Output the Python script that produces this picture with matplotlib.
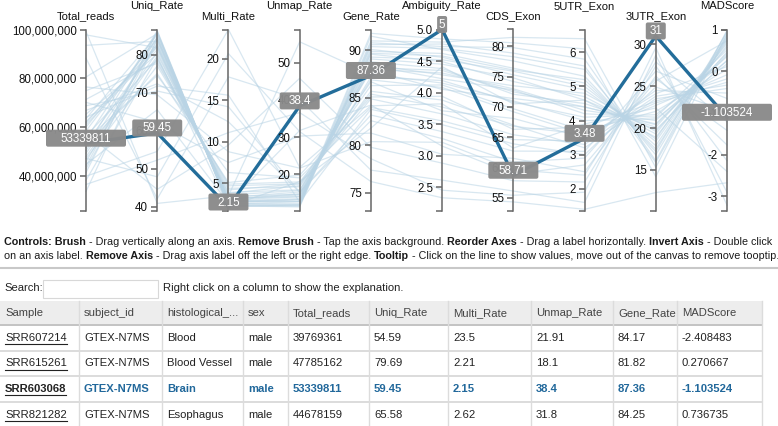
import matplotlib
matplotlib.use("Agg")
import matplotlib.pyplot as plt
from matplotlib.patches import Rectangle, FancyBboxPatch
from matplotlib.ticker import FuncFormatter

plt.rcParams["font.family"] = ["Liberation Sans", "DejaVu Sans"]

W, H = 778, 426

# ---------------------------------------------------------------- data
DIMS = ["Total_reads", "Uniq_Rate", "Multi_Rate", "Unmap_Rate", "Gene_Rate",
        "Ambiguity_Rate", "CDS_Exon", "5UTR_Exon", "3UTR_Exon", "MADScore"]
DOMAINS = [(25.5e6, 100e6), (38.9, 86.7), (1.67, 23.5), (10.2, 58.9), (73.1, 92.2),
           (2.12, 5.0), (52.8, 82.8), (1.35, 6.67), (10.1, 31.77), (-3.36, 1.01)]
TICKS = [[40e6, 60e6, 80e6, 100e6], [40, 50, 60, 70, 80], [5, 10, 15, 20],
         [20, 30, 40, 50], [75, 80, 85, 90], [2.5, 3.0, 3.5, 4.0, 4.5, 5.0],
         [55, 60, 65, 70, 75, 80], [2, 3, 4, 5, 6], [15, 20, 25, 30], [-3, -2, -1, 0, 1]]

# background samples (light lines)
total_reads = [39769361, 47785162, 44678159, 62.1e6, 58.4e6, 71.3e6, 55.0e6, 49.2e6, 66.8e6, 93.5e6,
               41.3e6, 52.7e6, 60.9e6, 88.2e6, 45.6e6, 57.3e6, 38.1e6, 63.4e6, 74.9e6, 50.3e6,
               68.7e6, 43.9e6, 97.8e6, 54.6e6, 59.9e6, 36.4e6, 65.2e6, 80.5e6, 47.1e6, 61.7e6,
               56.2e6, 42.8e6, 70.1e6, 51.5e6, 64.0e6, 99.2e6, 33.5e6, 76.4e6, 53.1e6, 46.9e6]
uniq_rate = [54.59, 79.69, 65.58, 82.1, 84.5, 78.3, 85.9, 80.7, 72.4, 83.6,
             86.2, 75.1, 81.4, 42.1, 84.8, 44.6, 79.2, 85.3, 77.8, 83.0,
             70.5, 86.0, 81.9, 74.6, 84.1, 52.3, 80.2, 85.6, 47.9, 82.7,
             78.9, 83.9, 62.2, 86.4, 71.8, 40.9, 84.3, 69.5, 82.4, 77.1]
multi_rate = [23.5, 2.21, 2.62, 3.1, 2.8, 4.2, 2.4, 3.6, 12.4, 2.9,
              2.3, 5.1, 3.3, 17.8, 2.5, 9.6, 3.8, 2.6, 4.7, 3.0,
              14.2, 2.2, 3.4, 6.3, 2.7, 11.1, 3.9, 2.4, 20.6, 3.2,
              4.4, 2.8, 7.5, 2.3, 15.6, 3.5, 2.9, 8.8, 3.1, 4.9]
unmap_rate = [21.91, 18.1, 31.8, 14.8, 12.7, 17.5, 11.7, 15.7, 15.2, 13.5,
              11.5, 19.8, 15.3, 40.1, 12.7, 45.8, 17.0, 12.1, 17.5, 14.0,
              15.3, 11.8, 14.7, 19.1, 13.2, 36.6, 15.9, 12.0, 31.5, 14.1,
              16.7, 13.3, 30.3, 11.3, 12.6, 55.6, 12.8, 21.7, 14.5, 18.0]
gene_rate = [84.17, 81.82, 84.25, 88.4, 90.1, 86.7, 91.5, 87.9, 83.2, 89.6,
             90.8, 85.1, 88.0, 77.4, 89.9, 79.8, 86.3, 91.0, 84.9, 88.8,
             82.6, 90.4, 87.2, 84.0, 89.3, 78.6, 86.9, 91.8, 76.2, 88.5,
             85.7, 89.1, 81.3, 90.6, 83.8, 87.5, 89.7, 80.4, 88.2, 85.4]
ambiguity_rate = [3.82, 4.41, 3.15, 4.22, 4.56, 3.71, 4.68, 4.05, 3.38, 4.49,
                  4.73, 3.94, 4.31, 2.61, 4.62, 2.88, 4.12, 4.80, 3.66, 4.38,
                  3.27, 4.70, 4.19, 3.55, 4.52, 2.45, 4.08, 4.85, 2.33, 4.28,
                  3.88, 4.45, 3.02, 4.77, 3.49, 4.15, 4.58, 3.21, 4.35, 3.77]
cds_exon = [63.2, 70.5, 58.9, 72.8, 75.3, 68.1, 77.6, 71.4, 62.7, 74.2,
            79.8, 66.3, 73.0, 56.1, 76.4, 57.8, 69.7, 81.5, 65.4, 72.1,
            60.9, 78.3, 70.8, 64.6, 75.9, 55.4, 69.2, 80.6, 54.3, 73.5,
            67.0, 74.8, 61.5, 78.9, 63.9, 71.0, 76.1, 59.6, 72.5, 66.8]
utr5_exon = [3.9, 4.6, 2.7, 4.2, 4.9, 3.5, 5.3, 4.4, 3.1, 4.7,
             5.8, 3.8, 4.3, 1.6, 5.1, 2.2, 3.7, 6.4, 3.3, 4.5,
             2.9, 5.5, 4.1, 3.4, 5.0, 1.9, 3.6, 6.1, 1.4, 4.8,
             3.2, 4.6, 2.5, 5.6, 3.0, 4.0, 5.2, 2.4, 4.4, 3.6]
utr3_exon = [22.4, 19.8, 25.6, 21.3, 18.7, 24.1, 17.2, 20.5, 26.8, 19.3,
             16.1, 23.2, 20.9, 28.7, 17.9, 27.4, 22.0, 15.3, 23.8, 20.1,
             25.9, 16.8, 21.6, 24.5, 18.4, 29.6, 22.7, 14.2, 12.3, 19.6,
             23.5, 18.9, 26.2, 15.9, 24.9, 21.1, 17.5, 27.9, 20.4, 23.0]
mad_score = [-2.408483, 0.270667, 0.736735, 0.52, 0.81, 0.12, 0.94, 0.43, -0.65, 0.68,
             0.97, -0.18, 0.36, -2.91, 0.76, -2.15, 0.05, 0.99, -0.33, 0.58,
             -1.42, 0.88, 0.25, -0.52, 0.72, -3.22, -0.08, 0.91, -2.68, 0.47,
             -0.41, 0.63, -1.77, 0.85, -0.95, 0.18, 0.79, -1.21, 0.39, -0.26]
background = [total_reads, uniq_rate, multi_rate, unmap_rate, gene_rate,
              ambiguity_rate, cds_exon, utr5_exon, utr3_exon, mad_score]

# highlighted sample (SRR603068)
hl_values = [53339811, 59.45, 2.15, 38.4, 87.36, 5, 58.71, 3.48, 31, -1.103524]
hl_labels = ["53339811", "59.45", "2.15", "38.4", "87.36", "5", "58.71", "3.48", "31", "-1.103524"]

# table below the chart
table_header = ["Sample", "subject_id", "histological_...", "sex", "Total_reads",
                "Uniq_Rate", "Multi_Rate", "Unmap_Rate", "Gene_Rate", "MADScore"]
table_rows = [
    ["SRR607214", "GTEX-N7MS", "Blood", "male", "39769361", "54.59", "23.5", "21.91", "84.17", "-2.408483"],
    ["SRR615261", "GTEX-N7MS", "Blood Vessel", "male", "47785162", "79.69", "2.21", "18.1", "81.82", "0.270667"],
    ["SRR603068", "GTEX-N7MS", "Brain", "male", "53339811", "59.45", "2.15", "38.4", "87.36", "-1.103524"],
    ["SRR821282", "GTEX-N7MS", "Esophagus", "male", "44678159", "65.58", "2.62", "31.8", "84.25", "0.736735"],
]
HL_ROW = 2

controls_1 = [("Controls: Brush", True), (" - Drag vertically along an axis. ", False),
              ("Remove Brush", True), (" - Tap the axis background. ", False),
              ("Reorder Axes", True), (" - Drag a label horizontally. ", False),
              ("Invert Axis", True), (" - Double click", False)]
controls_2 = [("on an axis label. ", False), ("Remove Axis", True),
              (" - Drag axis label off the left or the right edge. ", False),
              ("Tooltip", True),
              (" - Click on the line to show values, move out of the canvas to remove tooptip.", False)]

# ---------------------------------------------------------------- layout
BG_LINE = "#b9d4e5"
HL_LINE = "#236d9a"
AXIS_C = "#666666"
BOX_C = "#8a8a8a"
BLUE_TXT = "#21689b"
L, R, T, B = 86, 727, 29.5, 211

fig = plt.figure(figsize=(W / 100, H / 100), dpi=100)
fig.patch.set_facecolor("white")
rend = fig.canvas.get_renderer()

page = fig.add_axes([0, 0, 1, 1])
page.set_xlim(0, W); page.set_ylim(H, 0); page.axis("off")


def norm(k, v):
    lo, hi = DOMAINS[k]
    return (v - lo) / (hi - lo)


host = fig.add_axes([L / W, 1 - B / H, (R - L) / W, (B - T) / H])
host.set_xlim(0, len(DIMS) - 1); host.set_ylim(0, 1); host.axis("off")
xs = list(range(len(DIMS)))
for j in range(len(total_reads)):
    host.plot(xs, [norm(k, background[k][j]) for k in xs], color=BG_LINE,
              lw=0.9, alpha=0.55, clip_on=False, zorder=1)
host.plot(xs, [norm(k, hl_values[k]) for k in xs], color=HL_LINE, lw=2.4,
          clip_on=False, zorder=3, solid_joinstyle="round")

# one real axes per dimension, carrying its own scale
for k, name in enumerate(DIMS):
    xp = L + k * (R - L) / (len(DIMS) - 1)
    a = fig.add_axes([xp / W, 1 - B / H, 1e-5, (B - T) / H])
    a.patch.set_visible(False)
    for s in ("top", "right", "bottom"):
        a.spines[s].set_visible(False)
    a.spines["left"].set_color(AXIS_C); a.spines["left"].set_linewidth(1.1)
    a.set_ylim(*DOMAINS[k]); a.set_xticks([])
    a.set_yticks(TICKS[k]); a.set_yticks(DOMAINS[k], minor=True)
    if k == 0:
        fmt = FuncFormatter(lambda v, p: f"{v:,.0f}")
    elif k == 5:
        fmt = FuncFormatter(lambda v, p: f"{v:.1f}")
    else:
        fmt = FuncFormatter(lambda v, p: f"{v:g}")
    a.yaxis.set_major_formatter(fmt)
    a.tick_params(axis="y", which="both", direction="out", length=4.5, width=1.1,
                  color=AXIS_C, labelsize=8.3, pad=2, labelcolor="#111111")
    a.tick_params(axis="y", which="minor", labelleft=False)

ov = fig.add_axes([0, 0, 1, 1])
ov.set_xlim(0, W); ov.set_ylim(H, 0); ov.axis("off"); ov.patch.set_visible(False)

for k, name in enumerate(DIMS):
    xp = L + k * (R - L) / (len(DIMS) - 1)
    ov.text(xp, 16 if k % 2 == 0 else 6, name, ha="center", va="center",
            fontsize=8.1, color="#111111")

# tooltip boxes on the highlighted line
inv = ov.transData.inverted()
for k, lab in enumerate(hl_labels):
    px, py = inv.transform(host.transData.transform((k, norm(k, hl_values[k]))))
    bw, bh = 10 * len(lab), 17
    cy = py - 5
    ov.add_patch(FancyBboxPatch((px - bw / 2, cy - bh / 2), bw, bh,
                                boxstyle="round,pad=0,rounding_size=2",
                                fc=BOX_C, ec="none", alpha=0.97, zorder=5))
    ov.text(px, cy + 0.5, lab, ha="center", va="center", color="white",
            fontsize=8.4, zorder=6)


# ---------------------------------------------------------------- text block
def text_w(s, size, bold):
    t = page.text(0, 0, s, fontsize=size, fontweight="bold" if bold else "normal")
    w = t.get_window_extent(rend).width
    t.remove()
    return w


def rich_width(segs, size):
    sp = text_w("a a", size, False) - text_w("aa", size, False)
    w = 0
    for s, b in segs:
        core = s.strip()
        w += text_w(core, size, b) + sp * (len(s) - len(s.lstrip())) + sp * (len(s) - len(s.rstrip()))
    return w


def rich(x, y, segs, size, color="#1a1a1a"):
    sp = text_w("a a", size, False) - text_w("aa", size, False)
    for s, b in segs:
        x += sp * (len(s) - len(s.lstrip()))
        core = s.strip()
        t = page.text(x, y, core, fontsize=size, fontweight="bold" if b else "normal",
                      color=color, va="center", ha="left")
        x += t.get_window_extent(rend).width + sp * (len(s) - len(s.rstrip()))


fs1 = 8.0 * 770 / rich_width(controls_1, 8.0)
fs2 = 8.0 * 772 / rich_width(controls_2, 8.0)
fs = min(fs1, fs2)
rich(4, 242, controls_1, fs)
rich(4, 256, controls_2, fs)
page.plot([0, W], [268, 268], color="#c8c8c8", lw=1.5)

page.text(4, 288, "Search:", fontsize=8.1, va="center", color="#222222")
page.add_patch(Rectangle((43, 280), 115, 18, fc="white", ec="#d8d8d8", lw=0.8))
page.text(163, 288, "Right click on a column to show the explanation.", fontsize=8.1,
          va="center", color="#222222")

# ---------------------------------------------------------------- table
col_edges = [0, 79, 162, 243, 288, 369, 448, 531, 613, 677, 762]
row_edges = [301, 325, 351, 376, 402, 428]
page.add_patch(Rectangle((0, row_edges[0]), col_edges[-1], row_edges[1] - row_edges[0],
                         fc="#ededed", ec="none"))
for y in row_edges[1:-1]:
    page.plot([0, col_edges[-1]], [y, y], color="#d6d6d6", lw=1.2)
page.plot([0, col_edges[-1]], [row_edges[1], row_edges[1]], color="#c4c4c4", lw=1.4)
for x in col_edges[1:]:
    page.plot([x, x], [row_edges[0], H], color="#dcdcdc", lw=1.0)

for c, name in enumerate(table_header):
    page.text(col_edges[c] + 5, (row_edges[0] + row_edges[1]) / 2, name, fontsize=8.1,
              va="center", color="#444444")

for r, row in enumerate(table_rows):
    yc = (row_edges[r + 1] + row_edges[r + 2]) / 2
    for c, val in enumerate(row):
        bold = r == HL_ROW
        color = "#222222" if (c == 0 or not bold) else BLUE_TXT
        t = page.text(col_edges[c] + 5, yc, val, fontsize=8.1, va="center",
                      fontweight="bold" if bold else "normal", color=color)
        if c == 0:
            bb = t.get_window_extent(rend)
            page.plot([col_edges[c] + 5, col_edges[c] + 5 + bb.width], [yc + 6, yc + 6],
                      color="#222222", lw=0.8)

fig.savefig("out.png", dpi=100)
